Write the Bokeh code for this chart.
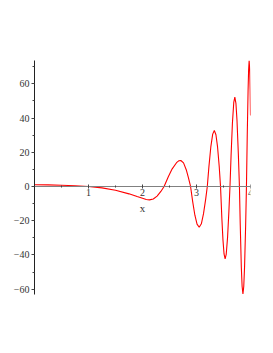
from bokeh.plotting import figure
from bokeh.models import Range1d, FixedTicker
from bokeh.embed import file_html
from bokeh.resources import INLINE

# values
x_vals = [0.0, 0.25, 0.5, 0.75, 1.0, 1.25, 1.5, 1.75, 1.9, 2.0, 2.07, 2.13, 2.2, 2.27, 2.34,
          2.40, 2.48, 2.55, 2.63, 2.67, 2.71, 2.76, 2.81, 2.85, 2.89, 2.93, 2.97, 3.01, 3.05,
          3.09, 3.13, 3.17, 3.20, 3.23, 3.265, 3.30, 3.33, 3.36, 3.39, 3.42, 3.445, 3.47, 3.49,
          3.51, 3.53, 3.55, 3.575, 3.60, 3.62, 3.64, 3.665, 3.69, 3.71, 3.73, 3.75, 3.775, 3.795,
          3.81, 3.83, 3.845, 3.86, 3.875, 3.89, 3.91, 3.925, 3.94, 3.955, 3.965, 3.975, 3.985,
          3.993, 4.0]
y_vals = [1.0, 0.95, 0.75, 0.4, 0.0, -0.8, -2.2, -4.3, -5.9, -6.9, -7.6, -7.8, -7.3, -5.6, -2.9,
          0.0, 5.8, 10.3, 13.9, 15.0, 15.2, 13.8, 9.8, 5.2, 0.0, -9.0, -16.8, -22.0, -23.8,
          -21.8, -15.9, -7.4, 0.0, 11.6, 23.1, 30.6, 32.7, 30.2, 23.1, 12.0, 0.0, -18.8, -31.2,
          -39.4, -42.3, -39.7, -29.9, -14.5, 0.0, 17.8, 36.9, 49.1, 52.2, 48.6, 38.6, 18.9, 0.0,
          -22.2, -47.2, -58.4, -62.7, -58.4, -47.0, -22.8, 0.0, 30.4, 55.8, 68.0, 73.6, 68.5,
          57.0, 41.5]

x_major = [1, 2, 3, 4]
x_minor = [0.5, 1.5, 2.5, 3.5]
y_major = [-60, -40, -20, 0, 20, 40, 60]
y_minor = [-50, -30, -10, 10, 30, 50, 70]

p = figure(frame_width=216, frame_height=234, output_backend="svg", toolbar_location=None,
           x_range=Range1d(0, 4), y_range=Range1d(-63.1, 73.6),
           min_border_left=34, min_border_top=60, min_border_right=15, min_border_bottom=45)
p.outline_line_color = None
p.grid.visible = False
p.background_fill_color = "white"
p.border_fill_color = "white"

p.line(x_vals, y_vals, line_color="#ff0000", line_width=1.1)

xa = p.xaxis[0]
xa.fixed_location = 0
xa.ticker = FixedTicker(ticks=x_major, minor_ticks=x_minor)
xa.axis_line_color = "#808080"
xa.major_tick_line_color = "#444444"
xa.minor_tick_line_color = "#444444"
xa.major_tick_in = 2
xa.major_tick_out = 2
xa.minor_tick_in = 1
xa.minor_tick_out = 1
xa.major_label_standoff = 1
xa.major_label_text_font = "Liberation Serif"
xa.major_label_text_font_size = "10px"
xa.major_label_text_color = "#333333"
xa.axis_label = "x"
xa.axis_label_text_font = "Liberation Serif"
xa.axis_label_text_font_style = "normal"
xa.axis_label_text_font_size = "11px"
xa.axis_label_text_color = "#333333"
xa.axis_label_standoff = 2

ya = p.yaxis[0]
ya.ticker = FixedTicker(ticks=y_major, minor_ticks=y_minor)
ya.axis_line_color = "#222222"
ya.major_tick_line_color = "#444444"
ya.minor_tick_line_color = "#444444"
ya.major_tick_in = 0
ya.major_tick_out = 3
ya.minor_tick_in = 0
ya.minor_tick_out = 2
ya.major_label_standoff = 2
ya.major_label_text_font = "Liberation Serif"
ya.major_label_text_font_size = "10px"
ya.major_label_text_color = "#333333"

open("out.html", "w").write(file_html(p, INLINE))
